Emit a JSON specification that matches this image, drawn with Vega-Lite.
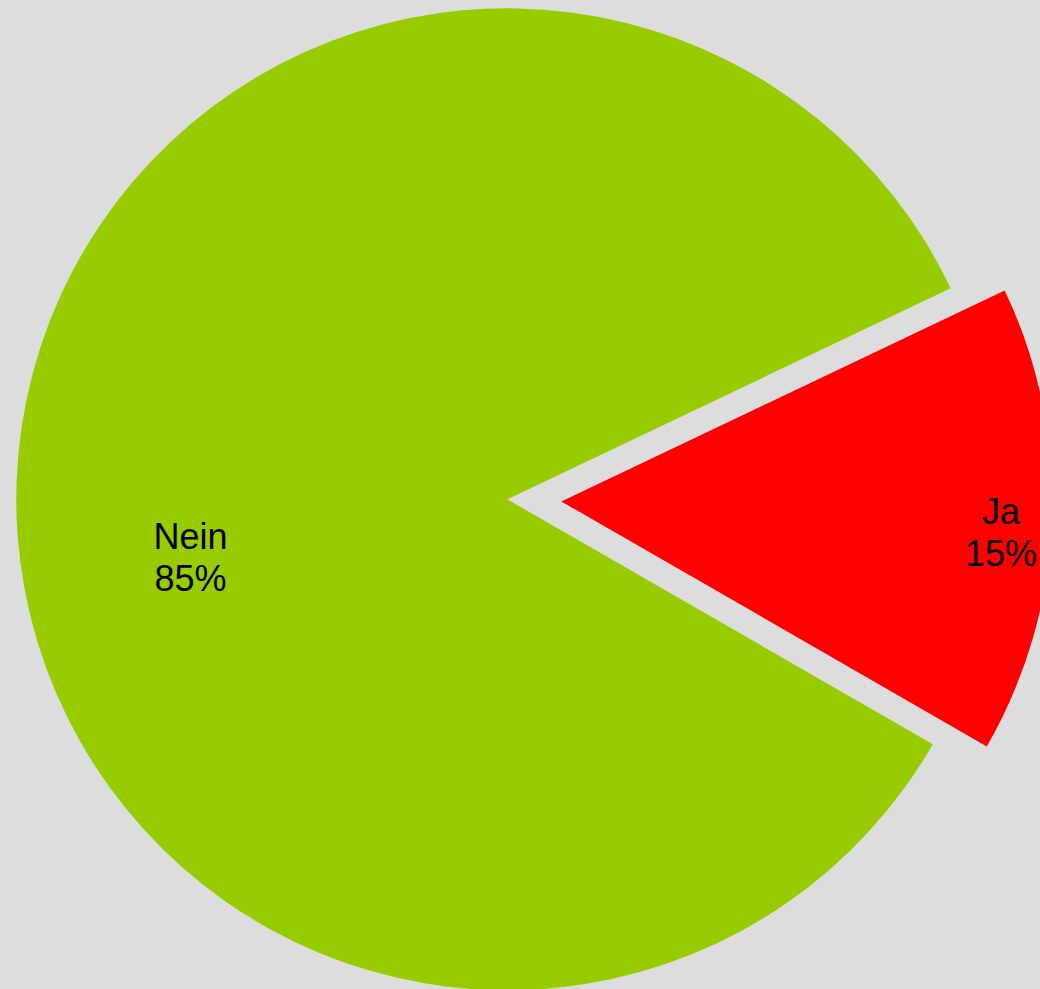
{
  "$schema": "https://vega.github.io/schema/vega-lite/v6.json",
  "width": 1040,
  "height": 989,
  "padding": 0,
  "autosize": {"type": "none"},
  "background": "#dddddd",
  "config": {"view": {"stroke": null}},
  "data": {
    "values": [
      {"answer": "Ja", "count": 2, "label": "Ja\n15%"},
      {"answer": "Nein", "count": 11, "label": "Nein\n85%"}
    ]
  },
  "encoding": {
    "theta": {"field": "count", "type": "quantitative", "stack": true,
      "scale": {"range": [1.1266, 7.4098]}},
    "order": {"field": "answer", "sort": "ascending"},
    "color": {"field": "answer", "type": "nominal", "legend": null,
      "scale": {"domain": ["Ja", "Nein"], "range": ["#ff0000", "#99cc00"]}}
  },
  "layer": [
    {
      "mark": {"type": "arc", "outerRadius": 491, "xOffset": -12.7, "yOffset": 4.8},
      "encoding": {
        "opacity": {"condition": {"test": "datum.answer == 'Ja'", "value": 0}, "value": 1}
      }
    },
    {
      "mark": {"type": "arc", "outerRadius": 491, "xOffset": 41.3, "yOffset": 6.9},
      "encoding": {
        "opacity": {"condition": {"test": "datum.answer == 'Nein'", "value": 0}, "value": 1}
      }
    },
    {
      "mark": {"type": "text", "radius": 317, "xOffset": -12.7, "yOffset": 4.8, "dy": 51,
        "font": "Liberation Sans", "fontSize": 36, "lineHeight": 42, "lineBreak": "\n",
        "align": "center", "baseline": "middle", "color": "#000000"},
      "encoding": {
        "text": {"field": "label"},
        "color": {"value": "#000000"},
        "opacity": {"condition": {"test": "datum.answer == 'Ja'", "value": 0}, "value": 1}
      }
    },
    {
      "mark": {"type": "text", "radius": 494, "xOffset": -12.7, "yOffset": 4.8, "dy": -6,
        "font": "Liberation Sans", "fontSize": 36, "lineHeight": 42, "lineBreak": "\n",
        "align": "center", "baseline": "middle", "color": "#000000"},
      "encoding": {
        "text": {"field": "label"},
        "color": {"value": "#000000"},
        "opacity": {"condition": {"test": "datum.answer == 'Nein'", "value": 0}, "value": 1}
      }
    }
  ]
}
